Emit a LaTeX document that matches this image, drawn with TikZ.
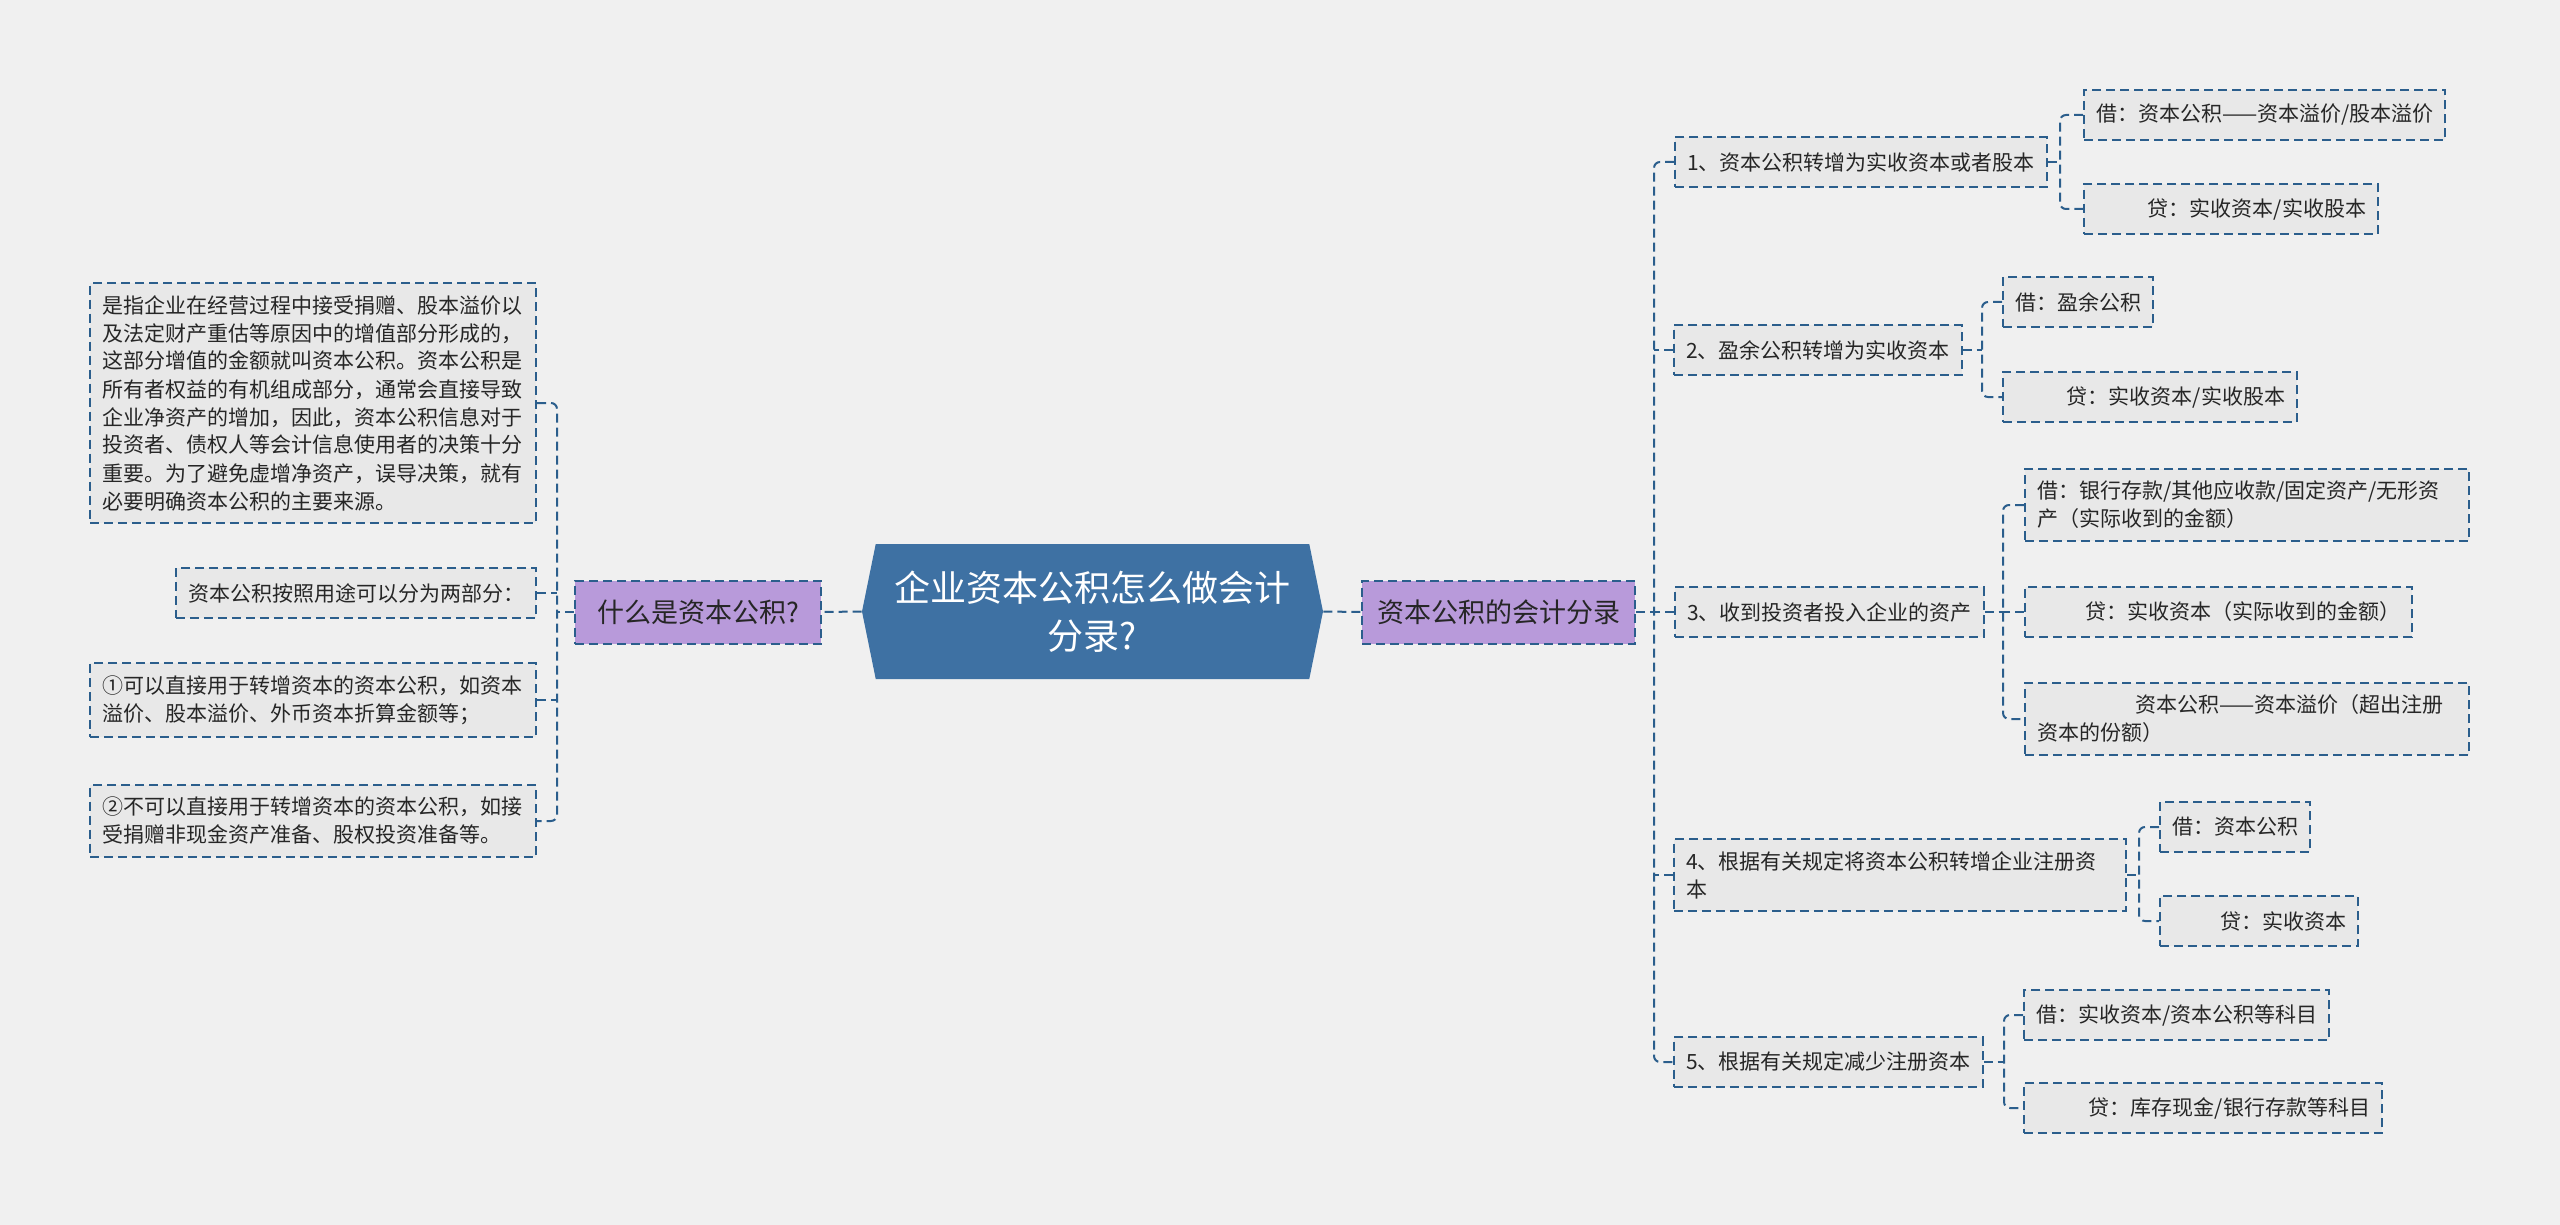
\documentclass[tikz,border=0pt]{standalone}
\usepackage{fontspec}
\setmainfont{Noto Sans CJK SC}
\usepackage{tikz}
\usetikzlibrary{shapes.symbols}
\definecolor{paper}{HTML}{F0F0F0}
\definecolor{hubblue}{HTML}{3E71A3}
\definecolor{linkblue}{HTML}{2B5E8C}
\definecolor{lilac}{HTML}{B89ADA}
\definecolor{leafgray}{HTML}{E8E8E8}
\definecolor{ink}{HTML}{262626}
\tikzset{
    link/.style={linkblue, line width=1pt, dash pattern=on 4.5pt off 2.5pt},
    box/.style={draw=linkblue, line width=1pt, dash pattern=on 4.5pt off 2.5pt,
        fill=leafgray, text=ink, font=\fontsize{10.5}{14}\selectfont,
        inner xsep=6pt, inner ysep=6pt, minimum height=25pt, align=left},
    topic/.style={box, fill=lilac, font=\fontsize{13.5}{18}\selectfont,
        inner xsep=7.5pt, minimum height=31.5pt},
    hub/.style={shape=signal, signal to=east and west, signal pointer angle=157,
        fill=hubblue, text=white, font=\fontsize{18}{24}\selectfont, align=center,
        minimum width=230.5pt, minimum height=67.5pt, inner sep=0pt}
}
\begin{document}
\begin{tikzpicture}[x=0.5pt, y=-0.5pt]
        \fill[paper] (0,0) rectangle (2560,1225);
        \useasboundingbox (0,0) rectangle (2560,1225);

        \node[hub] (hub) at (1092.5,611.5) {企业资本公积怎么做会计\\分录?};
        \node[topic, anchor=east, minimum width=123pt] (qa) at (822,612) {什么是资本公积?};
        \node[topic, anchor=west] (qb) at (1361,612) {资本公积的会计分录};

        \node[box, anchor=east, text width=211pt] (l1) at (537,403) {是指企业在经营过程中接受捐赠、股本溢价以\\及法定财产重估等原因中的增值部分形成的，\\这部分增值的金额就叫资本公积。资本公积是\\所有者权益的有机组成部分，通常会直接导致\\企业净资产的增加，因此，资本公积信息对于\\投资者、债权人等会计信息使用者的决策十分\\重要。为了避免虚增净资产，误导决策，就有\\必要明确资本公积的主要来源。};
        \node[box, anchor=east] (l2) at (537,593) {资本公积按照用途可以分为两部分：};
        \node[box, anchor=east, text width=211pt] (l3) at (537,700) {①可以直接用于转增资本的资本公积，如资本\\溢价、股本溢价、外币资本折算金额等；};
        \node[box, anchor=east, text width=211pt] (l4) at (537,821) {②不可以直接用于转增资本的资本公积，如接\\受捐赠非现金资产准备、股权投资准备等。};

        \node[box, anchor=west] (r1) at (1674,162) {1、资本公积转增为实收资本或者股本};
        \node[box, anchor=west] (r2) at (1673,350) {2、盈余公积转增为实收资本};
        \node[box, anchor=west] (r3) at (1674,612) {3、收到投资者投入企业的资产};
        \node[box, anchor=west, text width=214pt] (r4) at (1673,875) {4、根据有关规定将资本公积转增企业注册资\\本};
        \node[box, anchor=west] (r5) at (1673,1062) {5、根据有关规定减少注册资本};

        \node[box, anchor=west] (r1a) at (2083,115) {借：资本公积——资本溢价/股本溢价};
        \node[box, anchor=west, text width=135pt, align=right] (r1b) at (2083,209) {贷：实收资本/实收股本};
        \node[box, anchor=west] (r2a) at (2002,302) {借：盈余公积};
        \node[box, anchor=west, text width=135pt, align=right] (r2b) at (2002,397) {贷：实收资本/实收股本};
        \node[box, anchor=west, text width=210pt] (r3a) at (2024,505) {借：银行存款/其他应收款/固定资产/无形资\\产（实际收到的金额）};
        \node[box, anchor=west, text width=181.5pt, align=right] (r3b) at (2024,612) {贷：实收资本（实际收到的金额）};
        \node[box, anchor=west, text width=210pt] (r3c) at (2024,719) {\hspace*{4.7em}资本公积——资本溢价（超出注册\\资本的份额）};
        \node[box, anchor=west] (r4a) at (2159,827) {借：资本公积};
        \node[box, anchor=west, text width=87pt, align=right] (r4b) at (2159,921) {贷：实收资本};
        \node[box, anchor=west] (r5a) at (2023,1015) {借：实收资本/资本公积等科目};
        \node[box, anchor=west, text width=167pt, align=right] (r5b) at (2023,1108) {贷：库存现金/银行存款等科目};

        \coordinate (lb) at (557,612);
        \coordinate (rb) at (1654,612);
        \coordinate (b1) at (2060,162);
        \coordinate (b2) at (1982,350);
        \coordinate (b3) at (2003,612);
        \coordinate (b4) at (2139,875);
        \coordinate (b5) at (2004,1062);

        \draw[link] (hub.west) -- (qa.east);
        \draw[link] (hub.east) -- (qb.west);
        \draw[link] (qa.west) -- (lb);
        \draw[link, rounded corners=3pt] (l1.east) -| (lb |- l4.east) -- (l4.east);
        \foreach \n in {l2,l3}
            \draw[link] (\n.east) -- (lb |- \n.east);

        \draw[link] (qb.east) -- (rb);
        \draw[link, rounded corners=3pt] (r1.west) -| (rb |- r5.west) -- (r5.west);
        \foreach \n in {r2,r3,r4}
            \draw[link] (\n.west) -- (rb |- \n.west);

        \foreach \n/\a/\b in {1/r1a/r1b, 2/r2a/r2b, 3/r3a/r3c, 4/r4a/r4b, 5/r5a/r5b} {
            \draw[link] (r\n.east) -- (b\n);
            \draw[link, rounded corners=3pt] (\a.west) -| (b\n |- \b.west) -- (\b.west);
        }
        \draw[link] (r3b.west) -- (b3 |- r3b.west);
\end{tikzpicture}
\end{document}
